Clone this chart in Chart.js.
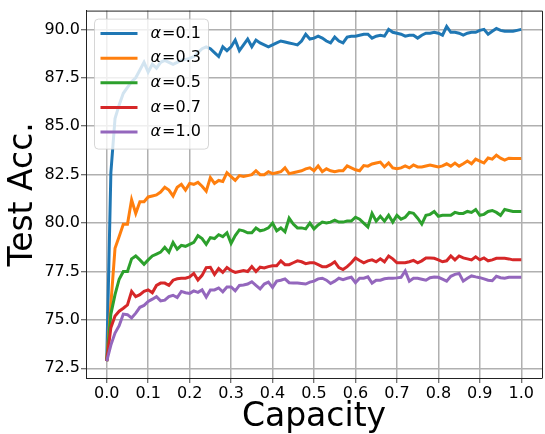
<!DOCTYPE html>
<html lang="en">
<head>
  <meta charset="UTF-8">
  <title>Test Acc. vs Capacity</title>
  <script src="https://cdn.jsdelivr.net/npm/chart.js"></script>
  <style>
    body { margin: 0; background: #fff; }
    canvas { display: block; }
  </style>
</head>
<body>
  <canvas id="accChart" width="545" height="434"></canvas>

  <script>
    // capacity sampled every 0.01 from 0 to 1
    const capacity = Array.from({ length: 101 }, (_, i) => +(i / 100).toFixed(2));
    const xTicks = [0.0, 0.1, 0.2, 0.3, 0.4, 0.5, 0.6, 0.7, 0.8, 0.9, 1.0];
    const yTicks = [72.5, 75.0, 77.5, 80.0, 82.5, 85.0, 87.5, 90.0];
    const alphas = ['0.1', '0.3', '0.5', '0.7', '1.0'];

    // test accuracy per alpha
    const acc01 = [72.87, 82.6, 85.4, 86.1, 86.7, 87.0, 87.3, 87.5, 87.9, 88.3,
      87.8, 88.2, 88.0, 88.3, 88.4, 88.3, 88.2, 88.3, 88.4, 88.45,
      88.5, 88.6, 88.8, 89.0, 89.1, 89.0, 88.8, 88.6, 89.1, 88.9,
      89.1, 89.45, 88.9, 89.2, 89.5, 89.1, 89.45, 89.3, 89.2, 89.1,
      89.2, 89.3, 89.4, 89.35, 89.3, 89.25, 89.2, 89.4, 89.75, 89.5,
      89.55, 89.65, 89.55, 89.4, 89.3, 89.6, 89.4, 89.3, 89.6, 89.65,
      89.65, 89.7, 89.75, 89.75, 89.55, 89.65, 89.7, 89.65, 90.0, 89.85,
      89.8, 89.75, 89.65, 89.7, 89.7, 89.55, 89.7, 89.8, 89.8, 89.85,
      89.8, 89.7, 90.15, 89.85, 89.85, 89.8, 89.7, 89.8, 89.85, 89.85,
      89.95, 90.0, 89.75, 89.9, 90.05, 89.95, 89.9, 89.9, 89.9, 89.95, 90.0];
    const acc03 = [72.87, 75.8, 78.7, 79.3, 79.94, 79.94, 81.2, 80.5, 81.1, 81.1,
      81.35, 81.4, 81.45, 81.6, 81.85, 81.7, 81.4, 81.85, 82.0, 81.7,
      82.05, 82.0, 82.1, 81.9, 81.65, 82.35, 82.05, 82.2, 82.15, 82.6,
      82.4, 82.2, 82.45, 82.4, 82.45, 82.5, 82.7, 82.5, 82.5, 82.65,
      82.55, 82.6, 82.65, 82.85, 82.55, 82.6, 82.65, 82.7, 82.8, 82.85,
      82.7, 82.95, 82.65, 82.8, 82.7, 82.65, 82.7, 82.7, 82.95, 82.85,
      82.75, 82.7, 82.97, 82.94, 83.05, 83.1, 83.15, 82.9, 83.1, 82.85,
      82.8, 82.85, 82.95, 82.85, 83.0, 82.9, 82.9, 82.95, 83.0, 82.95,
      82.9, 82.95, 83.06, 82.94, 83.1, 82.94, 83.06, 83.2, 83.06, 83.3,
      83.2, 83.1, 83.36, 83.3, 83.5, 83.35, 83.25, 83.35, 83.33, 83.33, 83.33];
    const acc05 = [72.87, 75.3, 76.3, 77.1, 77.5, 77.5, 78.15, 78.3, 78.1, 77.87,
      78.1, 78.3, 78.4, 78.5, 78.75, 78.5, 79.0, 78.65, 78.85, 78.8,
      78.9, 79.0, 79.35, 79.2, 78.9, 79.25, 79.2, 79.4, 79.3, 79.5,
      78.95, 79.35, 79.65, 79.6, 79.5, 79.5, 79.75, 79.6, 79.65, 79.75,
      80.0, 79.6, 79.75, 79.55, 80.25, 79.95, 79.75, 79.75, 79.7, 80.0,
      79.7, 79.9, 80.05, 80.0, 80.05, 80.15, 80.05, 80.05, 80.1, 80.1,
      80.3, 80.2, 80.0, 79.8, 80.5, 80.1, 80.35, 80.1, 80.4, 80.05,
      80.4, 80.2, 80.3, 80.55, 80.5, 80.25, 79.95, 80.4, 80.45, 80.6,
      80.35, 80.4, 80.4, 80.4, 80.55, 80.5, 80.5, 80.6, 80.55, 80.7,
      80.4, 80.45, 80.6, 80.65, 80.55, 80.4, 80.7, 80.65, 80.6, 80.6, 80.6];
    const acc07 = [72.87, 74.6, 75.2, 75.45, 75.6, 75.77, 76.47, 76.2, 76.3, 76.47,
      76.55, 76.4, 76.78, 76.9, 76.9, 76.78, 77.05, 77.12, 77.15, 77.15,
      77.22, 77.4, 77.06, 77.3, 77.7, 77.72, 77.35, 77.65, 77.45, 77.7,
      77.55, 77.45, 77.5, 77.55, 77.5, 77.75, 77.5, 77.72, 77.68, 77.75,
      77.8, 77.8, 78.05, 77.85, 77.85, 77.95, 78.05, 78.0, 77.9, 77.95,
      77.95, 77.85, 77.75, 77.75, 77.85, 78.0, 77.7, 77.6, 77.75, 77.95,
      78.2, 78.07, 77.95, 78.05, 78.1, 78.0, 78.15, 78.0, 78.3, 78.15,
      77.95, 77.95, 77.95, 78.0, 78.07, 77.95, 78.05, 78.2, 78.2, 78.18,
      78.1, 78.0, 78.05, 78.3, 78.1, 78.3, 78.2, 78.15, 78.1, 78.26,
      78.1, 78.2, 78.05, 78.1, 78.18, 78.18, 78.18, 78.15, 78.1, 78.1, 78.1];
    const acc10 = [72.87, 73.7, 74.32, 74.7, 75.3, 75.27, 75.1, 75.35, 75.65, 75.75,
      75.95, 76.07, 76.2, 75.98, 76.02, 76.2, 76.27, 76.15, 76.47, 76.4,
      76.37, 76.5, 76.42, 76.55, 76.18, 76.55, 76.55, 76.65, 76.45, 76.7,
      76.7, 76.5, 76.78, 76.8, 76.85, 76.97, 76.78, 76.6, 76.85, 76.95,
      76.68, 77.0, 77.05, 77.12, 76.92, 76.9, 76.9, 76.88, 76.85, 76.95,
      77.0, 77.12, 77.15, 77.05, 76.88, 77.0, 77.15, 77.08, 77.15, 77.2,
      76.92, 77.15, 77.15, 77.22, 76.9, 77.05, 77.05, 77.12, 77.15, 77.15,
      77.17, 77.2, 77.53, 77.0, 77.15, 77.15, 77.1, 77.05, 77.18, 77.22,
      77.2, 77.1, 77.0, 77.25, 77.35, 77.4, 77.0, 77.15, 77.27, 77.22,
      77.18, 77.12, 77.05, 77.02, 77.25, 77.18, 77.15, 77.2, 77.2, 77.2, 77.2];

    const series = [acc01, acc03, acc05, acc07, acc10];
    const colors = ['#1f77b4', '#ff7f0e', '#2ca02c', '#d62728', '#9467bd'];
    const FONT = 'DejaVu Sans';

    // top + right spines (chart.js only draws the axis side)
    const framePlugin = {
      id: 'frame',
      afterDatasetsDraw(chart) {
        const { ctx, chartArea: a } = chart;
        ctx.save();
        ctx.strokeStyle = '#222';
        ctx.lineWidth = 1;
        ctx.beginPath();
        ctx.moveTo(a.left, a.top + 0.5);
        ctx.lineTo(a.right + 0.5, a.top + 0.5);
        ctx.lineTo(a.right + 0.5, a.bottom);
        ctx.stroke();
        ctx.restore();
      }
    };

    // matplotlib-like legend inside the upper left corner
    const legendPlugin = {
      id: 'insideLegend',
      afterDraw(chart) {
        const { ctx, chartArea: a } = chart;
        const bx = a.left + 8.5, by = a.top + 8.5, bw = 114, bh = 130, r = 4;
        ctx.save();
        ctx.beginPath();
        ctx.moveTo(bx + r, by);
        ctx.arcTo(bx + bw, by, bx + bw, by + bh, r);
        ctx.arcTo(bx + bw, by + bh, bx, by + bh, r);
        ctx.arcTo(bx, by + bh, bx, by, r);
        ctx.arcTo(bx, by, bx + bw, by, r);
        ctx.closePath();
        ctx.fillStyle = 'rgba(255,255,255,0.8)';
        ctx.fill();
        ctx.strokeStyle = 'rgba(204,204,204,0.8)';
        ctx.lineWidth = 1;
        ctx.stroke();

        ctx.textBaseline = 'middle';
        ctx.textAlign = 'left';
        alphas.forEach((al, i) => {
          const y = by + 14.5 + i * 24.6;
          ctx.strokeStyle = colors[i];
          ctx.lineWidth = 3;
          ctx.beginPath();
          ctx.moveTo(bx + 6, y);
          ctx.lineTo(bx + 43, y);
          ctx.stroke();
          ctx.fillStyle = '#000';
          ctx.font = 'italic 16px "' + FONT + '"';
          const tx = bx + 56;
          ctx.fillText('α', tx, y);
          const w = ctx.measureText('α').width;
          ctx.font = '16px "' + FONT + '"';
          ctx.fillText('=' + al, tx + w + 1, y);
        });
        ctx.restore();
      }
    };

    const accChart = new Chart(document.getElementById('accChart'), {
      type: 'line',
      data: {
        datasets: series.map((vals, i) => ({
          label: 'α=' + alphas[i],
          data: vals.map((v, j) => ({ x: capacity[j], y: v })),
          borderColor: colors[i],
          backgroundColor: colors[i],
          borderWidth: 3,
          pointRadius: 0,
          tension: 0,
          fill: false,
          order: series.length - i
        }))
      },
      options: {
        responsive: false,
        animation: false,
        layout: { padding: { top: 8, right: 3, left: 0, bottom: 0 } },
        plugins: {
          legend: { display: false },
          tooltip: { enabled: false }
        },
        scales: {
          x: {
            type: 'linear',
            min: -0.05,
            max: 1.05,
            afterBuildTicks: s => { s.ticks = xTicks.map(v => ({ value: v })); },
            afterFit: s => { s.height = 56; },
            ticks: {
              color: '#000',
              padding: 1,
              maxRotation: 0,
              font: { family: FONT, size: 16 },
              callback: v => v.toFixed(1)
            },
            grid: { color: '#b0b0b0', lineWidth: 1.5, tickLength: 5, tickColor: '#444', tickWidth: 1 },
            border: { display: true, color: '#222', width: 1 },
            title: {
              display: true,
              text: 'Capacity',
              color: '#000',
              font: { family: FONT, size: 33 },
              padding: { top: 0, bottom: -3 }
            }
          },
          y: {
            min: 72.0,
            max: 90.97,
            afterBuildTicks: s => { s.ticks = yTicks.map(v => ({ value: v })); },
            afterFit: s => { s.width = 86; },
            ticks: {
              color: '#000',
              padding: 1,
              font: { family: FONT, size: 16 },
              callback: v => v.toFixed(1)
            },
            grid: { color: '#b0b0b0', lineWidth: 1.5, tickLength: 5, tickColor: '#444', tickWidth: 1 },
            border: { display: true, color: '#222', width: 1 },
            title: {
              display: true,
              text: 'Test Acc.',
              color: '#000',
              font: { family: FONT, size: 33 },
              padding: { top: 4, bottom: 0 }
            }
          }
        }
      },
      plugins: [framePlugin, legendPlugin]
    });
  </script>
</body>
</html>
